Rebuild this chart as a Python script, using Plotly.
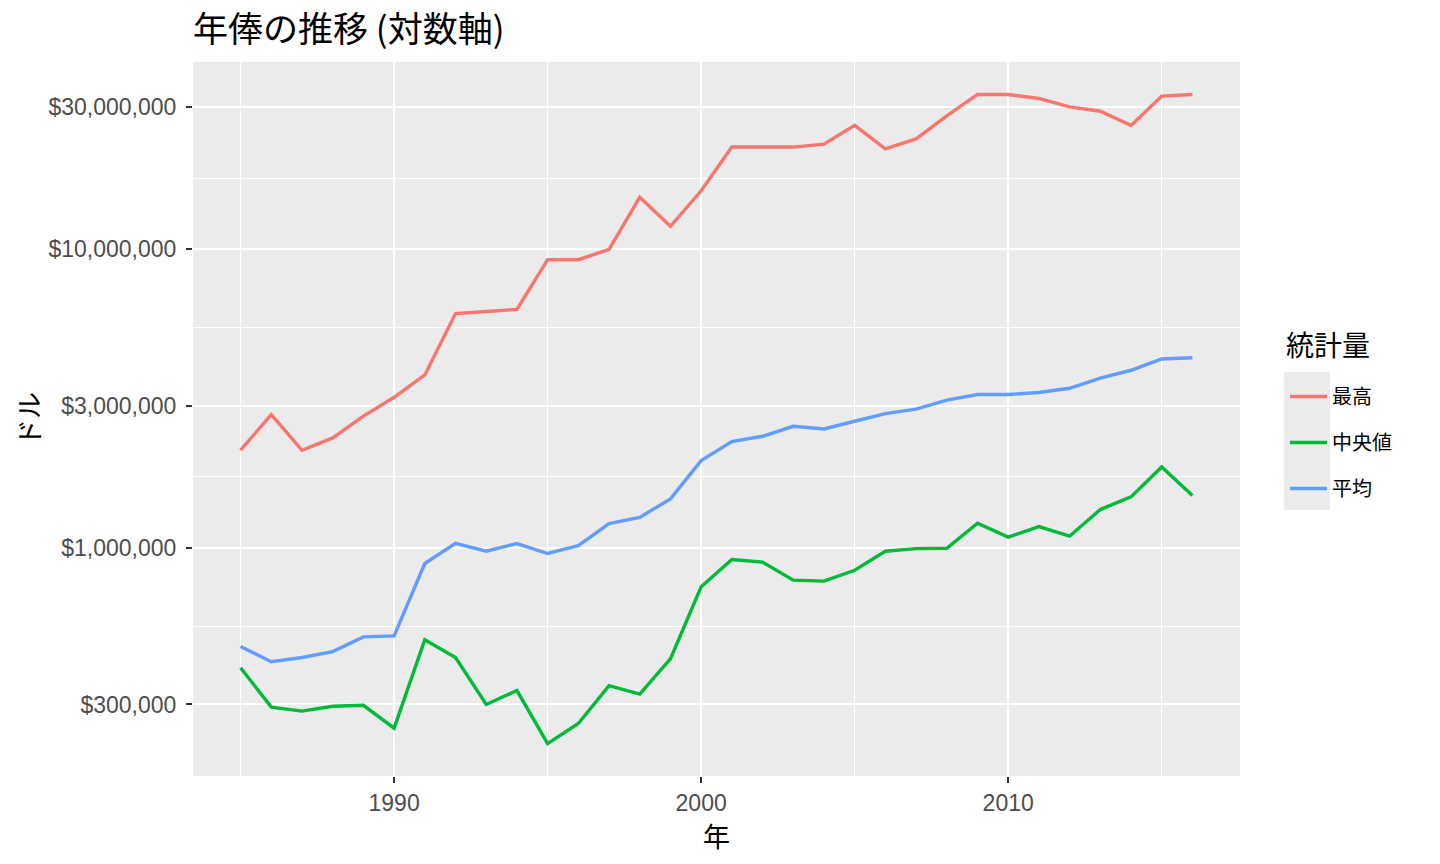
import numpy as np
import plotly.graph_objects as go

years = list(range(1985, 2017))

max_salary = [2130000, 2800000, 2127000, 2340000, 2767000, 3200000, 3800000, 6100000,
              6200000, 6300000, 9237500, 9237500, 10000000, 14937000, 11950000, 15714000,
              22000000, 22000000, 22000000, 22500000, 26000000, 21681000, 23429000, 28000000,
              33000000, 33000000, 32000000, 30000000, 29000000, 26000000, 32571000, 33000000]

median_salary = [398000, 294000, 285000, 296000, 298000, 250000, 494000, 431000,
                 300000, 334000, 222000, 259000, 347000, 325000, 426000, 743000,
                 917000, 898000, 782000, 776000, 844000, 977000, 997000, 1000000,
                 1212000, 1089000, 1182000, 1097000, 1347000, 1485000, 1871000, 1500000]

mean_salary = [469000, 417000, 431000, 451000, 505000, 509000, 889000, 1039000,
               977000, 1036000, 960000, 1020000, 1208000, 1268000, 1463000, 1964000,
               2274000, 2369000, 2559000, 2507000, 2660000, 2820000, 2920000, 3130000,
               3270000, 3270000, 3320000, 3430000, 3710000, 3940000, 4300000, 4340000]

series_names = ["最高", "中央値", "平均"]
series_colors = ["#F8766D", "#00BA38", "#619CFF"]

y_tickvals = [300000, 1000000, 3000000, 10000000, 30000000]
y_ticktext = ["$300,000", "$1,000,000", "$3,000,000", "$10,000,000", "$30,000,000"]
x_tickvals = [1990, 2000, 2010]
x_minor = [1985, 1995, 2005, 2015]

title_text = "年俸の推移 (対数軸)"
x_title = "年"
y_title = "ドル"
legend_title = "統計量"

CJK = "Noto Sans CJK JP"
LAT = "Liberation Sans, Arial, sans-serif"

fig = go.Figure()
for i, (name, vals, col) in enumerate(zip(series_names, [max_salary, median_salary, mean_salary], series_colors)):
    fig.add_trace(go.Scatter(x=years, y=vals, mode="lines", name=name,
                             legendgroup=f"g{i}",
                             line=dict(color=col, width=3.4)))

# axis ranges with 5% expansion (ggplot style)
xmin, xmax = min(years), max(years)
xpad = (xmax - xmin) * 0.05
allv = np.log10(np.array(max_salary + median_salary + mean_salary, dtype=float))
lmin, lmax = allv.min(), allv.max()
lpad = (lmax - lmin) * 0.05

y_minor = [float(np.sqrt(a * b)) for a, b in zip(y_tickvals[:-1], y_tickvals[1:])]

W, H = 1440, 864
ml, mr, mt, mb = 193, 200, 62, 88
PW, PH = W - ml - mr, H - mt - mb


def px_x(p):
    return (p - ml) / PW


def px_y(p):
    return 1 - (p - mt) / PH


fig.update_layout(
    width=W, height=H,
    margin=dict(l=ml, r=mr, t=mt, b=mb),
    paper_bgcolor="white",
    plot_bgcolor="#EBEBEB",
    title=dict(text=title_text, x=0, xref="paper", xanchor="left",
               y=1 - 29.5 / H, yref="container", yanchor="middle",
               font=dict(family=CJK, size=35, color="black")),
    xaxis=dict(range=[xmin - xpad, xmax + xpad], tickmode="array", tickvals=x_tickvals,
               showgrid=True, gridcolor="white", gridwidth=2.2, zeroline=False,
               ticks="outside", ticklen=6, tickwidth=2, tickcolor="#333333",
               tickfont=dict(family=LAT, size=23, color="#4D4D4D"),
               minor=dict(tickmode="array", tickvals=x_minor, showgrid=True,
                          gridcolor="white", gridwidth=1.1, ticks=""),
               title=dict(text=x_title, standoff=0, font=dict(family=CJK, size=27, color="black")),
               showline=False),
    yaxis=dict(type="log", range=[lmin - lpad, lmax + lpad], tickmode="array",
               tickvals=y_tickvals, ticktext=y_ticktext,
               showgrid=True, gridcolor="white", gridwidth=2.2, zeroline=False,
               ticks="outside", ticklen=6, tickwidth=2, tickcolor="#333333",
               ticklabelstandoff=5,
               tickfont=dict(family=LAT, size=23, color="#4D4D4D"),
               minor=dict(tickmode="array", tickvals=y_minor, showgrid=True,
                          gridcolor="white", gridwidth=1.1, ticks=""),
               title=dict(text=y_title, standoff=0, font=dict(family=CJK, size=27, color="black")),
               showline=False),
    legend=dict(font=dict(family=CJK, size=20, color="black"),
                x=px_x(1285), xanchor="left",
                y=px_y(377), yanchor="top",
                tracegroupgap=17, itemwidth=37, bgcolor="rgba(0,0,0,0)"),
    annotations=[dict(text=legend_title, xref="paper", yref="paper",
                      x=px_x(1284), y=px_y(344), xanchor="left", yanchor="middle",
                      showarrow=False, font=dict(family=CJK, size=28, color="black"))],
    shapes=[dict(type="rect", xref="paper", yref="paper",
                 x0=px_x(1284), x1=px_x(1330), y0=px_y(510), y1=px_y(372),
                 fillcolor="#EBEBEB", line=dict(width=0), layer="below")],
    showlegend=True,
)

fig.write_html("out.html", config={"displayModeBar": False},
               post_script="document.body.style.margin='0px';")
